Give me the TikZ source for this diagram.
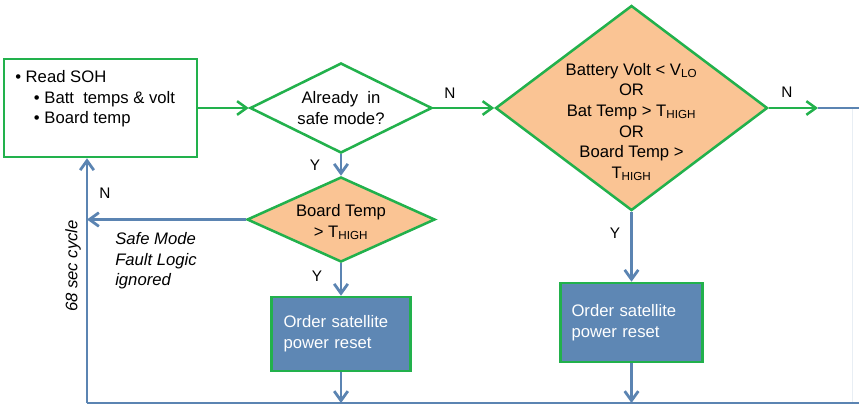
\documentclass[tikz,border=0pt]{standalone}
\usepackage{fontspec}
\setmainfont{Liberation Sans}
\usetikzlibrary{positioning,arrows.meta,shapes.geometric}
\definecolor{fgreen}{RGB}{34,177,76}
\definecolor{fblue}{RGB}{91,132,178}
\definecolor{fboxc}{RGB}{94,135,180}
\definecolor{forange}{RGB}{250,196,148}
\tikzset{
  gline/.style={draw=fgreen,line width=1.9pt},
  garrow/.style={gline,-{Straight Barb[length=2.5mm,width=3.6mm]}},
  bline/.style={draw=fblue,line width=2.1pt},
  barrow/.style={bline,-{Straight Barb[length=2.5mm,width=3.6mm]}},
  txt/.style={font=\fontsize{12.5}{15.5}\selectfont,align=center,inner sep=0pt},
  yn/.style={font=\fontsize{11.5}{13}\selectfont,inner sep=0pt},
  dec/.style={diamond,draw=fgreen,line width=1.9pt,inner sep=0pt},       % decision
  sohbox/.style={rectangle,draw=fgreen,line width=1.9pt,fill=white,inner sep=0pt},
  actbox/.style={rectangle,draw=fgreen,line width=1.9pt,fill=fboxc,text=white,
    font=\fontsize{12.5}{15.5}\selectfont,align=left,inner ysep=0pt},   % action box
}

\begin{document}
\begin{tikzpicture}[x=0.75pt,y=-0.75pt]
  \useasboundingbox (0,0) rectangle (859,408);
  % read state of health
  \node[sohbox,minimum width=144.75pt,minimum height=73.5pt] (soh) at (100.5,108) {};
  \node[txt,align=left,anchor=north west] (sohtxt) at (15,70)
    {• Read SOH\\ \hspace*{14pt}• Batt\ \ temps \& volt\\ \hspace*{14pt}• Board temp};
  % decisions
  \node[dec,fill=white,minimum width=136.5pt,minimum height=67.5pt] (safe) at (341,108) {};
  \node[txt] (safetxt) at (safe) {Already\ \ in\\safe mode?};
  \node[dec,fill=forange,minimum width=204pt,minimum height=153.75pt] (fault) at (631.5,108) {};
  \node[txt] (faulttxt) at (631.5,122) {Battery Volt < V\textsubscript{LO}\\OR\\Bat Temp > T\textsubscript{HIGH}\\OR\\Board Temp >\\T\textsubscript{HIGH}};
  \node[dec,fill=forange,minimum width=141pt,minimum height=63.75pt] (board) at (341,219.5) {};
  \node[txt] (boardtxt) at (341,222) {Board Temp\\> T\textsubscript{HIGH}};
  % reset boxes
  \node[actbox,inner xsep=9pt,text width=86.25pt,minimum height=55.5pt] (reset1) at (341,334) {Order satellite\\power reset};
  \node[actbox,inner xsep=8.25pt,text width=90pt,minimum height=59.25pt] (reset2) at (631.5,322.5) {Order satellite\\power reset};
  % loop corners
  \coordinate (ntip) at (818,108);
  \coordinate (rtop) at (859,108);
  \coordinate (lb) at (87,403);
  \coordinate (rb) at (859,403);
  \draw[fblue!14,line width=0.6pt] (852,108) -- (852,403);
  % connectors
  \draw[garrow] (soh.east) -- (safe.west);
  \draw[garrow] (safe.east) -- (fault.west);
  \draw[bline] (ntip) -- (rtop);
  \draw[garrow] (fault.east) -- (ntip);
  \draw[barrow] (safe.south) -- (board.north);
  \draw[barrow] (board.south) -- (reset1.north);
  \draw[barrow] (fault.south) -- (reset2.north);
  \draw[bline] (rb) -- (lb);
  \draw[barrow] (lb) -- (lb |- soh.south);
  \draw[barrow] (board.west) -- (lb |- board.west);
  \draw[barrow] (reset1.south) -- (reset1.south |- lb);
  \draw[barrow] (reset2.south) -- (reset2.south |- lb);
  % branch labels
  \node[yn] (nsafe) at (450,93) {N};
  \node[yn] (nfault) at (787,92) {N};
  \node[yn] (ysafe) at (315,165) {Y};
  \node[yn] (yboard) at (317,276) {Y};
  \node[yn] (nboard) at (105,193) {N};
  \node[yn] (yfault) at (615,233) {Y};
  % notes
  \node[txt,align=left,anchor=west,font=\fontsize{12.5}{15.5}\selectfont\itshape] (note) at (115,261) {Safe Mode\\Fault Logic\\ignored};
  \node[txt,rotate=90,font=\fontsize{12.5}{15.5}\selectfont\itshape] (cycle) at (73,266) {68 sec cycle};
\end{tikzpicture}
\end{document}
